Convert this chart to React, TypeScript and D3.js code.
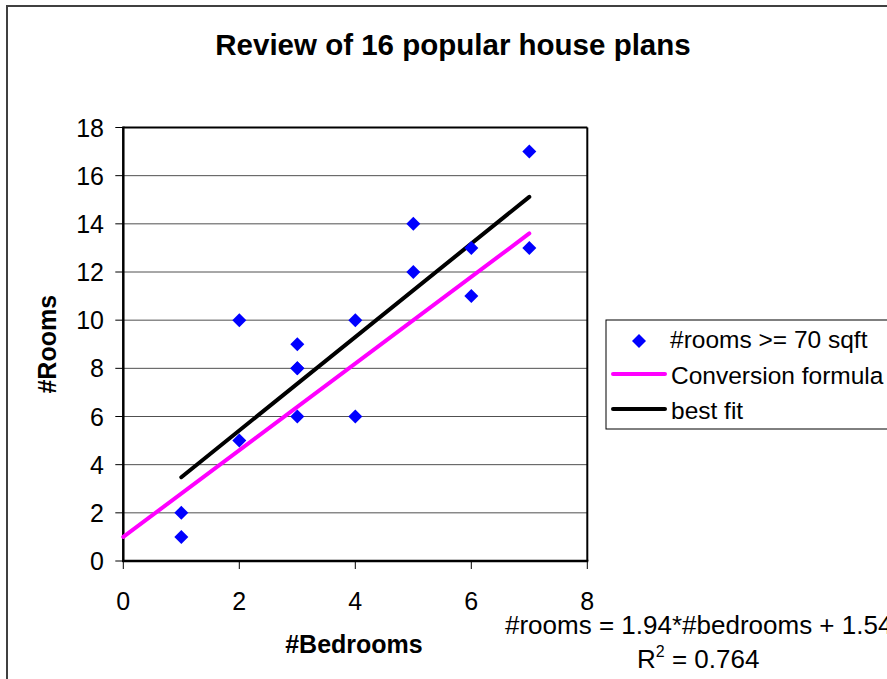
import React from 'react';
import * as d3 from 'd3';

// #bedrooms vs #rooms for each of the 16 plans
const bedrooms = [1, 1, 2, 2, 3, 3, 3, 3, 4, 4, 5, 5, 6, 6, 7, 7];
const rooms = [2, 1, 10, 5, 9, 8, 8, 6, 10, 6, 14, 12, 13, 11, 17, 13];

// conversion formula line (endpoints)
const conversionX = [0, 7];
const conversionY = [1, 13.6];

// best fit trendline
const fitSlope = 1.94;
const fitIntercept = 1.54;
const fitRange = [1, 7];
const rSquared = 0.764;

const xTicks = [0, 2, 4, 6, 8];
const yTicks = [0, 2, 4, 6, 8, 10, 12, 14, 16, 18];

const legendLabels = ['#rooms >= 70 sqft', 'Conversion formula', 'best fit'];

const FONT = "Arial, 'Liberation Sans', sans-serif";

function Diamond({ cx, cy, r }: { cx: number; cy: number; r: number }) {
  return (
    <path
      d={`M${cx},${cy - r}L${cx + r},${cy}L${cx},${cy + r}L${cx - r},${cy}Z`}
      fill="#0000ff"
    />
  );
}

export default function App() {
  const x = d3.scaleLinear().domain([0, 8]).range([123.3, 587.3]);
  const y = d3.scaleLinear().domain([0, 18]).range([561, 127.5]);

  const line = d3
    .line<[number, number]>()
    .x((d) => x(d[0]))
    .y((d) => y(d[1]));

  const conversionPts = conversionX.map((v, i) => [v, conversionY[i]] as [number, number]);
  const fitPts = fitRange.map((v) => [v, fitSlope * v + fitIntercept] as [number, number]);

  const [x0, x1] = x.range();
  const [y0, y1] = y.range();

  return (
    <svg
      width={887}
      height={679}
      style={{ position: 'absolute', left: 0, top: 0, display: 'block', background: '#fff' }}
      fontFamily={FONT}
    >
      {/* chart frame */}
      <rect x={7} y={6} width={1000} height={1000} fill="#fff" stroke="#404040" strokeWidth={2} />

      <text x={453} y={55} textAnchor="middle" fontSize={29.5} fontWeight="bold">
        Review of 16 popular house plans
      </text>

      {/* gridlines */}
      {yTicks.slice(1).map((t) => (
        <line key={'g' + t} x1={x0} x2={x1} y1={y(t)} y2={y(t)} stroke="#505050" strokeWidth={1} />
      ))}

      {/* plot border */}
      <line x1={x1} x2={x1} y1={y1} y2={y0} stroke="#000" strokeWidth={2} />
      <line x1={x0} x2={x1} y1={y1} y2={y1} stroke="#000" strokeWidth={2} />

      {/* y axis */}
      <line x1={x0} x2={x0} y1={y1 - 1} y2={y0 + 1} stroke="#000" strokeWidth={2.5} />
      {yTicks.map((t) => (
        <g key={'y' + t}>
          <line x1={x0 - 8} x2={x0} y1={y(t)} y2={y(t)} stroke="#000" strokeWidth={1} />
          <text x={104} y={y(t)} dy="0.36em" textAnchor="end" fontSize={25}>
            {t}
          </text>
        </g>
      ))}

      {/* x axis */}
      <line x1={x0 - 1} x2={x1 + 1} y1={y0} y2={y0} stroke="#000" strokeWidth={2.5} />
      {xTicks.map((t) => (
        <g key={'x' + t}>
          <line x1={x(t)} x2={x(t)} y1={y0} y2={y0 + 8} stroke="#000" strokeWidth={1} />
          <text x={x(t)} y={610} textAnchor="middle" fontSize={25}>
            {t}
          </text>
        </g>
      ))}

      {/* series */}
      <path d={line(conversionPts) || ''} fill="none" stroke="#ff00ff" strokeWidth={4} strokeLinecap="round" />
      <path d={line(fitPts) || ''} fill="none" stroke="#000" strokeWidth={4} strokeLinecap="round" />
      {bedrooms.map((b, i) => (
        <Diamond key={'p' + i} cx={x(b)} cy={y(rooms[i])} r={7} />
      ))}

      {/* axis titles */}
      <text x={354} y={653} textAnchor="middle" fontSize={25} fontWeight="bold">
        #Bedrooms
      </text>
      <text
        transform={`translate(56,${(y0 + y1) / 2}) rotate(-90)`}
        textAnchor="middle"
        fontSize={25}
        fontWeight="bold"
      >
        #Rooms
      </text>

      {/* trendline label */}
      <text x={505} y={634} fontSize={26}>
        {`#rooms = ${fitSlope}*#bedrooms + ${fitIntercept}`}
      </text>
      <text x={637} y={668} fontSize={26}>
        R<tspan fontSize={16} dy={-11}>2</tspan>
        <tspan dy={11}>{` = ${rSquared}`}</tspan>
      </text>

      {/* legend */}
      <rect x={606} y={320} width={400} height={109} fill="#fff" stroke="#000" strokeWidth={1} />
      <Diamond cx={639} cy={341} r={7} />
      <line x1={613} x2={665} y1={374} y2={374} stroke="#ff00ff" strokeWidth={4} strokeLinecap="round" />
      <line x1={613} x2={665} y1={409} y2={409} stroke="#000" strokeWidth={4} strokeLinecap="round" />
      {legendLabels.map((l, i) => (
        <text key={l} x={i === 0 ? 670 : 671} y={[348, 384, 419][i]} fontSize={24.5}>
          {l}
        </text>
      ))}
    </svg>
  );
}
